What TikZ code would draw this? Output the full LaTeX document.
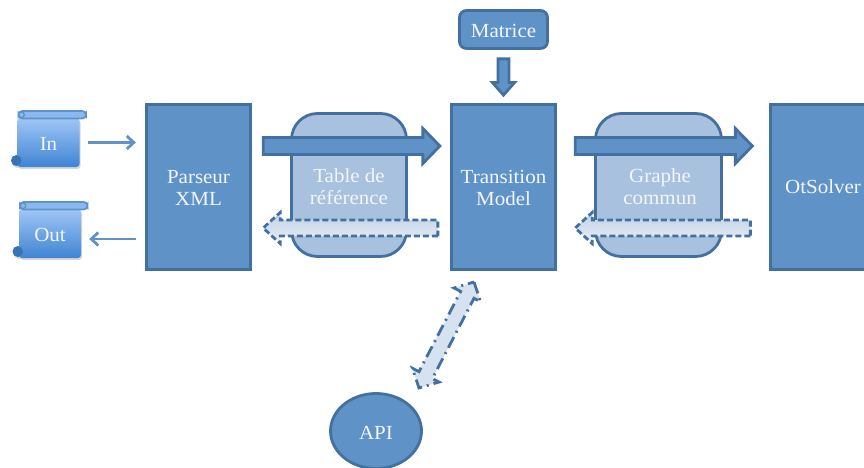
\documentclass[tikz,border=0pt]{standalone}
\usepackage{fontspec}
\setmainfont[FakeStretch=1.05]{Liberation Serif}
\usetikzlibrary{calc,shadows,shapes.geometric,arrows.meta}
\definecolor{boxfill}{HTML}{5F93C8}
\definecolor{boxline}{HTML}{44709F}
\definecolor{boxtext}{HTML}{F2F6FB}
\definecolor{softfill}{HTML}{A7C1DF}
\definecolor{paler}{HTML}{D6E2F0}
\definecolor{rettop}{HTML}{BDD0E6}
\definecolor{retbot}{HTML}{EBF0F7}
\definecolor{scrolltop}{HTML}{A0C6F7}
\definecolor{scrollbot}{HTML}{3F84D2}
\definecolor{scrollbar}{HTML}{8BB8EE}
\definecolor{scrollcurl}{HTML}{3A72B6}
\tikzset{
  x=1pt,y=-1pt,
  lbl/.style={text=boxtext,font=\fontsize{20}{22}\selectfont,align=center},
  bigbox/.style={draw=boxline,line width=2.8pt,fill=boxfill,minimum width=104.5pt,minimum height=165pt,inner sep=0pt},
  softbox/.style={draw=boxline,line width=2.8pt,fill=softfill,rounded corners=26pt,inner sep=0pt},
  solidarrow/.style={draw=boxline,line width=2.8pt,fill=boxfill,line join=miter},
  returnarrow/.style={draw=boxline,line width=2.8pt,dash pattern=on 6pt off 3pt,top color=rettop,bottom color=retbot},
  apiarrow/.style={draw=boxline,line width=2.8pt,dash pattern=on 12pt off 5pt on 2pt off 5pt,fill=paler},
  thinarrow/.style={draw=boxfill,line width=2.8pt},
  scrollhold/.style={minimum width=62pt,minimum height=49pt,inner sep=0pt},
  scrollshadow/.style={drop shadow={opacity=.3,shadow xshift=1pt,shadow yshift=-2pt}},
  scrollpic/.pic={
    \fill[scrollcurl,scrollshadow] (-1,44.5) circle (5.5);
    \shade[top color=scrolltop,bottom color=scrollbot,rounded corners=3pt,scrollshadow] (0,2) rectangle (62,51);
    \fill[scrollcurl] (-1,44.5) circle (5);
    \draw[boxfill,line width=1.8pt,fill=scrollbar,rounded corners=3.8pt] (1,-5) rectangle (68.5,2.5);
    \draw[boxfill,line width=1.3pt,fill=scrollbar] (4,-1.2) circle (2.8);
  }
}
% one-headed block arrow from #2 to #3: #4 half shaft, #5 head length, #6 half head
\newcommand{\blockarrow}[6]{%
  \path[#1] ($(#2)!#4pt!90:(#3)$)
    -- ($($(#3)!#5pt!(#2)$)!#4pt!-90:(#2)$)
    -- ($($(#3)!#5pt!(#2)$)!#6pt!-90:(#2)$)
    -- (#3)
    -- ($($(#3)!#5pt!(#2)$)!#6pt!90:(#2)$)
    -- ($($(#3)!#5pt!(#2)$)!#4pt!90:(#2)$)
    -- ($(#2)!#4pt!-90:(#3)$) -- cycle;}
% two-headed block arrow
\newcommand{\doublearrow}[6]{%
  \path[#1] (#2)
    -- ($($(#2)!#5pt!(#3)$)!#6pt!90:(#3)$)
    -- ($($(#2)!#5pt!(#3)$)!#4pt!90:(#3)$)
    -- ($($(#3)!#5pt!(#2)$)!#4pt!-90:(#2)$)
    -- ($($(#3)!#5pt!(#2)$)!#6pt!-90:(#2)$)
    -- (#3)
    -- ($($(#3)!#5pt!(#2)$)!#6pt!90:(#2)$)
    -- ($($(#3)!#5pt!(#2)$)!#4pt!90:(#2)$)
    -- ($($(#2)!#5pt!(#3)$)!#4pt!-90:(#3)$)
    -- ($($(#2)!#5pt!(#3)$)!#6pt!-90:(#3)$)
    -- cycle;}
\begin{document}
\begin{tikzpicture}
\useasboundingbox (0,0) rectangle (864,468);
\clip (0,0) rectangle (864,468);
\fill[white] (0,0) rectangle (864,468);
% soft boxes
\node[softbox,minimum width=115pt,minimum height=143pt] (table) at (349,185) {};
\node[softbox,minimum width=126pt,minimum height=143pt] (graphe) at (658.5,185) {};
% main boxes
\node[bigbox] (parseur) at (198.5,187) {};
\node[bigbox] (transition) at (503.5,187) {};
\node[bigbox] (solver) at (823,187) {};
\node[draw=boxline,line width=2.8pt,fill=boxfill,rounded corners=7pt,minimum width=88pt,minimum height=38pt,inner sep=0pt] (matrice) at (503.5,29.5) {};
\node[draw=boxline,line width=2.8pt,fill=boxfill,ellipse,minimum width=91pt,minimum height=75pt,inner sep=0pt] (api) at (376,431) {};
\node[lbl] (parseurlabel) at ($(parseur)+(0,1)$) {Parseur\\XML};
\node[lbl] (transitionlabel) at ($(transition)+(0,1)$) {Transition\\Model};
\node[lbl] (solverlabel) at (solver) {OtSolver};
\node[lbl] (matricelabel) at ($(matrice)+(0,1.5)$) {Matrice};
\node[lbl] (apilabel) at ($(api)+(0,2)$) {API};
% scrolls
\pic at (17.5,116) {scrollpic};
\pic at (19,207) {scrollpic};
\node[scrollhold] (in) at (48.5,142.5) {};
\node[scrollhold] (out) at (50,233.5) {};
\node[lbl] (inlabel) at ($(in)+(0,1.5)$) {In};
\node[lbl] (outlabel) at ($(out)+(0,1.5)$) {Out};
% thin arrows
\draw[thinarrow,-{Straight Barb[length=7pt,width=13pt]},shorten <=8pt,shorten >=9pt] (in.east) -- (in.east -| parseur.west);
\coordinate (outp) at ($(out.east)+(0,5.5)$);
\draw[thinarrow,-{Straight Barb[length=7pt,width=13pt]},shorten <=9pt,shorten >=8pt] (outp -| parseur.west) -- (outp);
% block arrows
\coordinate (a1) at ($(parseur.east)+(11,-41)$);
\coordinate (b1) at ($(transition.west)+(-10,-41)$);
\coordinate (a2) at ($(transition.west)+(-12,41)$);
\coordinate (b2) at ($(parseur.east)+(11,41)$);
\coordinate (a3) at ($(transition.east)+(18,-41)$);
\coordinate (b3) at ($(solver.west)+(-17,-41)$);
\coordinate (a4) at ($(solver.west)+(-19,41)$);
\coordinate (b4) at ($(transition.east)+(18,41)$);
\blockarrow{solidarrow}{a1}{b1}{8.5}{17}{17.5}
\blockarrow{solidarrow}{a3}{b3}{8.5}{17}{17.5}
\blockarrow{returnarrow}{a2}{b2}{8}{17}{15.5}
\blockarrow{returnarrow}{a4}{b4}{8}{17}{15.5}
\coordinate (m1) at ($(matrice.south)+(0,9)$);
\coordinate (m2) at ($(transition.north)+(0,-8)$);
\blockarrow{solidarrow}{m1}{m2}{5.5}{12.5}{11}
\coordinate (p1) at (474,282);
\coordinate (p2) at (419,388);
\doublearrow{apiarrow}{p1}{p2}{7.5}{14.5}{15}
% labels on soft boxes
\node[lbl] (tablelabel) at (349,187) {Table de\\référence};
\node[lbl] (graphelabel) at (660,187) {Graphe\\commun};
\end{tikzpicture}
\end{document}
